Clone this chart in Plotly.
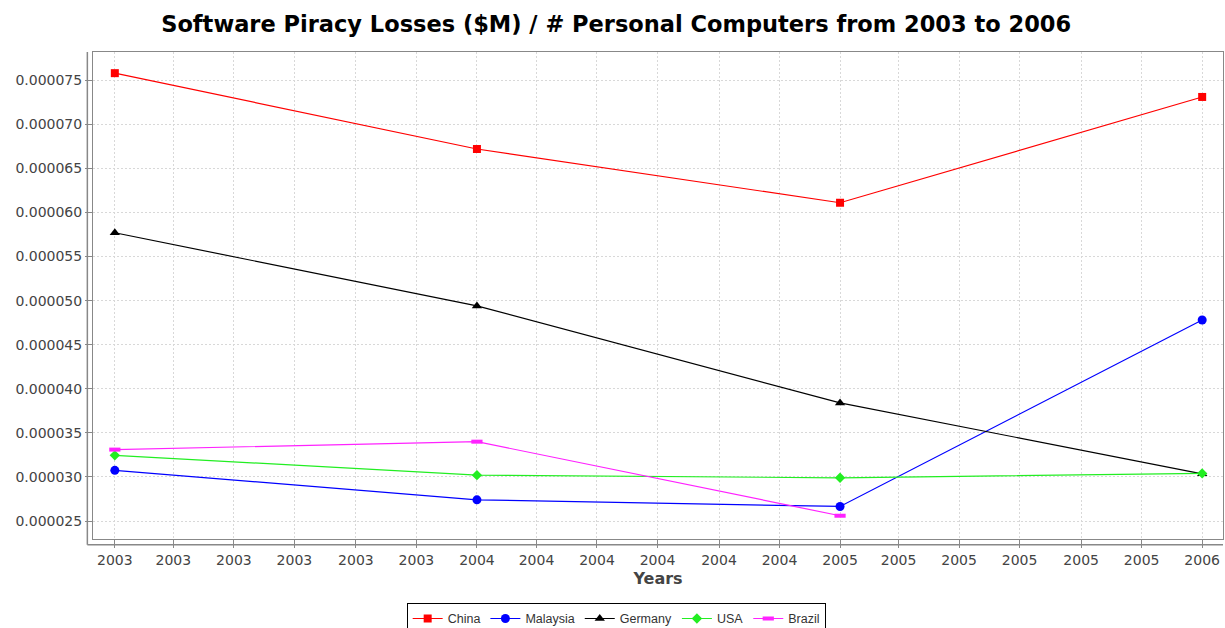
import plotly.graph_objects as go

years = ["2003-01-01", "2004-01-01", "2005-01-01", "2006-01-01"]

china = [7.58e-05, 6.72e-05, 6.11e-05, 7.31e-05]
malaysia = [3.075e-05, 2.74e-05, 2.665e-05, 4.78e-05]
germany = [5.77e-05, 4.94e-05, 3.84e-05, 3.035e-05]
usa = [3.245e-05, 3.02e-05, 2.99e-05, 3.04e-05]
brazil = [3.31e-05, 3.40e-05, 2.56e-05, None]

series = [
    ("China", china, "#ff0000", "square", 8),
    ("Malaysia", malaysia, "#0000ff", "circle", 9),
    ("Germany", germany, "#000000", "triangle-up", 9),
    ("USA", usa, "#22ee22", "diamond", 8),
]

fig = go.Figure()
for name, vals, color, symbol, size in series:
    fig.add_trace(go.Scatter(
        x=years, y=vals, name=name, mode="lines+markers",
        line=dict(color=color, width=1.2),
        marker=dict(color=color, symbol=symbol, size=size),
    ))

# Brazil uses a flat rectangle marker
fig.add_trace(go.Scatter(
    x=years, y=brazil, name="Brazil", mode="lines+markers",
    line=dict(color="#ff22ff", width=1.2),
    marker=dict(color="#ff22ff", symbol="line-ew", size=8,
                line=dict(color="#ff22ff", width=4)),
))

axis_gray = "#888888"
grid_gray = "#d8d8d8"
tick_font = dict(family="DejaVu Sans", size=14, color="#444444")

fig.update_layout(
    width=1225, height=628,
    title=dict(
        text="<b>Software Piracy Losses ($M) / # Personal Computers from 2003 to 2006</b>",
        x=0.503, xanchor="center", y=0.962, yanchor="middle",
        font=dict(family="DejaVu Sans", size=22.5, color="#000000"),
    ),
    paper_bgcolor="white",
    plot_bgcolor="white",
    margin=dict(l=93, r=2, t=52, b=89),
    xaxis=dict(
        type="date",
        range=["2002-12-10", "2006-01-22"],
        tick0="2003-01-01", dtick="M2", tickformat="%Y",
        showgrid=True, gridcolor=grid_gray, griddash="2px,2px", gridwidth=1,
        showline=True, linecolor=axis_gray, linewidth=1, mirror=True,
        ticks="outside", ticklen=8, tickcolor=axis_gray,
        tickfont=tick_font, automargin=False,
        zeroline=False,
        title=dict(text="<b>Years</b>", font=dict(family="DejaVu Sans", size=16, color="#444444"), standoff=6),
    ),
    yaxis=dict(
        range=[2.296e-05, 7.82e-05],
        tick0=0, dtick=5e-06, tickformat=".6f",
        showgrid=True, gridcolor=grid_gray, griddash="2px,2px", gridwidth=1,
        showline=True, linecolor=axis_gray, linewidth=1, mirror=True,
        ticks="outside", ticklen=7, tickcolor=axis_gray,
        tickfont=tick_font, automargin=False,
        zeroline=False,
    ),
    legend=dict(
        orientation="h", xref="container", yref="container",
        x=0.503, xanchor="center", y=0.04, yanchor="top",
        bordercolor="#000000", borderwidth=1, bgcolor="white",
        font=dict(family="Liberation Sans", size=12.5, color="#333333"),
        itemwidth=30, tracegroupgap=0,
    ),
)

# offset axis lines as drawn outside the plot frame
fig.add_shape(type="line", xref="paper", yref="paper", x0=-0.005, x1=-0.005, y0=-0.012, y1=1,
              line=dict(color=axis_gray, width=1.5))
fig.add_shape(type="line", xref="paper", yref="paper", x0=-0.005, x1=1, y0=-0.012, y1=-0.012,
              line=dict(color=axis_gray, width=1.5))

# drop the default page margin so the figure fills the window
fig.write_html(
    "out.html",
    config={"displayModeBar": False},
    post_script="document.body.style.margin='0';",
)
